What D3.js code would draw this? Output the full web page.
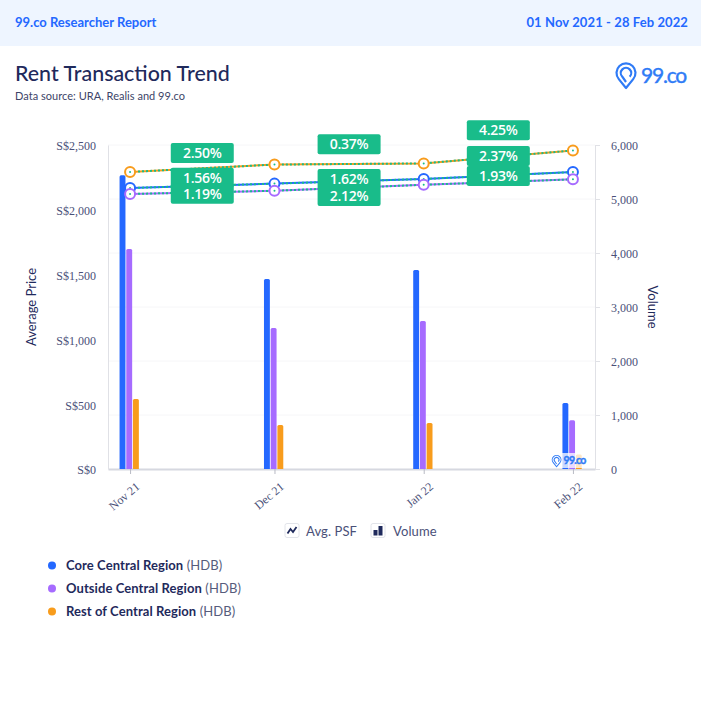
<!DOCTYPE html>
<html>
<head>
<meta charset="utf-8">
<script src="https://d3js.org/d3.v7.min.js"></script>
<title>Rent Transaction Trend</title>
<style>
html, body { margin: 0; padding: 0; background: #fff; }
svg { display: block; }
text { font-family: "Lato", sans-serif; }
.tick-label { font-family: "Liberation Serif", serif; font-size: 12px; fill: #4a5078; }
</style>
</head>
<body>
<svg id="chart" width="701" height="719"></svg>
<script>
// values
const months = ["2021-11-01", "2021-12-01", "2022-01-01", "2022-02-01"];
const monthLabels = ["Nov 21", "Dec 21", "Jan 22", "Feb 22"];
const regions = ["Core Central Region", "Outside Central Region", "Rest of Central Region"];
const coreVolume = [5440, 3520, 3685, 1220];
const outsideVolume = [4075, 2610, 2740, 905];
const restVolume = [1295, 815, 850, 270];
const corePrice = [2168, 2202, 2238, 2291];
const outsidePrice = [2122, 2147, 2193, 2235];
const restPrice = [2292, 2349, 2358, 2458];
const coreGrowth = ["1.56%", "1.62%", "2.37%"];
const outsideGrowth = ["1.19%", "2.12%", "1.93%"];
const restGrowth = ["2.50%", "0.37%", "4.25%"];
const priceTicks = [0, 500, 1000, 1500, 2000, 2500];
const volumeTicks = [0, 1000, 2000, 3000, 4000, 5000, 6000];

const colors = ["#2468ff", "#a66bff", "#f89c1c"];
const green = "#19bc8a";
const navy = "#1f2a5c";

// label centres were pushed apart by the original chart, so they sit in their own table
const labelY = [[177.7, 179, 156], [193.7, 196, 176], [153, 144.3, 130.3]];

const svg = d3.select("#chart");
const dates = months.map(d3.isoParse);

const x = d3.scaleTime()
  .domain([d3.isoParse("2021-10-27T10:00:00"), d3.isoParse("2022-02-05T14:00:00")])
  .range([108, 595]);
const yPrice = d3.scaleLinear().domain([0, 2500]).range([469, 145]);
const yVolume = d3.scaleLinear().domain([0, 6000]).range([469, 145]);

// page header
svg.append("rect").attr("width", 701).attr("height", 46).attr("fill", "#eef5ff");
svg.append("text").attr("x", 15).attr("y", 27).attr("font-size", 13).attr("font-weight", 700)
  .attr("fill", "#2468ff").text("99.co Researcher Report");
svg.append("text").attr("x", 688).attr("y", 27).attr("text-anchor", "end").attr("font-size", 13)
  .attr("font-weight", 700).attr("letter-spacing", 0.1).attr("fill", "#2468ff").text("01 Nov 2021 - 28 Feb 2022");
svg.append("text").attr("x", 15).attr("y", 81).attr("font-size", 21.4).attr("font-weight", 500)
  .attr("fill", navy).text("Rent Transaction Trend");
svg.append("text").attr("x", 15).attr("y", 100).attr("font-size", 11)
  .attr("letter-spacing", 0.03).attr("fill", "#3d4468").text("Data source: URA, Realis and 99.co");

function logo(g, scale, fontSize, weight, spacing) {
  const pin = g.append("g").attr("transform", `scale(${scale})`)
    .attr("fill", "none").attr("stroke", "#2f7bf6").attr("stroke-linejoin", "round");
  pin.append("path").attr("stroke-width", 2.2)
    .attr("d", "M10 24.5 L2.8 15.6 A9.5 9.5 0 1 1 17.2 15.6 Z");
  pin.append("path").attr("stroke-width", 2.2)
    .attr("d", "M10 18.5 L6.3 13.2 A5.2 5.2 0 1 1 13.7 13.2");
  g.append("text").attr("x", 25 * scale).attr("y", 19.5 * scale).attr("font-size", fontSize)
    .attr("font-weight", weight).attr("letter-spacing", spacing)
    .attr("fill", "#2f7bf6").attr("stroke", "#2f7bf6").attr("stroke-width", 0.4).text("99.co");
}
logo(svg.append("g").attr("transform", "translate(616,63.5)"), 1, 21, 400, -1.2);

// faint gridlines
svg.append("g").selectAll("line").data(volumeTicks.slice(1)).join("line")
  .attr("x1", 108).attr("x2", 595)
  .attr("y1", d => yVolume(d)).attr("y2", d => yVolume(d))
  .attr("stroke", "#f6f6f8");

// axes
const xAxis = d3.axisBottom(x).tickValues(dates).tickSizeInner(5).tickSizeOuter(0)
  .tickFormat((d, i) => monthLabels[i]);
const gx = svg.append("g").attr("transform", "translate(0,469)").call(xAxis);
gx.select(".domain").attr("stroke", "#d6d8e0").attr("stroke-width", 2);
gx.selectAll(".tick line").attr("stroke", "#b8bac4");
gx.selectAll(".tick text").attr("class", "tick-label")
  .attr("text-anchor", "end").attr("x", 0).attr("y", 0).attr("dy", 0)
  .attr("transform", "translate(10,19) rotate(-40)")
  .style("font-family", null).style("font-size", null);

const gl = svg.append("g").attr("transform", "translate(108,0)")
  .call(d3.axisLeft(yPrice).tickValues(priceTicks).tickSize(0).tickPadding(12)
    .tickFormat(d => "S$" + d3.format(",")(d)));
gl.select(".domain").attr("stroke", "#e0e1e6");
gl.selectAll(".tick text").attr("class", "tick-label").attr("dy", "0.4em");

const gr = svg.append("g").attr("transform", "translate(595,0)")
  .call(d3.axisRight(yVolume).tickValues(volumeTicks).tickSize(5).tickPadding(11)
    .tickFormat(d3.format(",")));
gr.select(".domain").attr("stroke", "#e0e1e6");
gr.selectAll(".tick line").attr("stroke", "#e0e1e6");
gr.selectAll(".tick text").attr("class", "tick-label").attr("dy", "0.4em");

svg.append("text").attr("transform", "translate(36,307) rotate(-90)")
  .attr("text-anchor", "middle").attr("font-size", 13).attr("fill", navy).text("Average Price");
svg.append("text").attr("transform", "translate(648,307) rotate(90)")
  .attr("text-anchor", "middle").attr("font-size", 13).attr("fill", navy).text("Volume");

// bars
const volumes = [coreVolume, outsideVolume, restVolume];
const barX = d3.scaleBand().domain(d3.range(3)).range([-10.5, 8.8]).paddingInner(0.12);
volumes.forEach((series, s) => {
  svg.append("g").selectAll("path").data(series).join("path")
    .attr("fill", colors[s])
    .attr("d", (d, i) => {
      const l = x(dates[i]) + barX(s), w = barX.bandwidth(), top = yVolume(d), r = 1.5;
      return `M${l},469V${top + r}Q${l},${top} ${l + r},${top}H${l + w - r}Q${l + w},${top} ${l + w},${top + r}V469Z`;
    });
});

// price lines with the green dotted overlay, rings on top
const prices = [corePrice, outsidePrice, restPrice];
const line = d3.line().x((d, i) => x(dates[i])).y(d => yPrice(d));
prices.forEach((series, s) => {
  svg.append("path").attr("d", line(series)).attr("fill", "none")
    .attr("stroke", colors[s]).attr("stroke-width", 2);
  svg.append("path").attr("d", line(series)).attr("fill", "none")
    .attr("stroke", green).attr("stroke-width", 2).attr("stroke-dasharray", "2 2");
  svg.append("g").selectAll("circle").data(series).join("circle")
    .attr("cx", (d, i) => x(dates[i])).attr("cy", d => yPrice(d)).attr("r", 5)
    .attr("fill", "#fff").attr("stroke", colors[s]).attr("stroke-width", 2);
  svg.append("g").selectAll("circle").data(series).join("circle")
    .attr("cx", (d, i) => x(dates[i])).attr("cy", d => yPrice(d)).attr("r", 1)
    .attr("fill", green);
});

// growth labels between the months
[coreGrowth, outsideGrowth, restGrowth].forEach((series, s) => {
  const g = svg.append("g").selectAll("g").data(series).join("g")
    .attr("transform", (d, i) => {
      const mid = new Date((dates[i].getTime() + dates[i + 1].getTime()) / 2);
      return `translate(${x(mid)},${labelY[s][i]})`;
    });
  g.append("rect").attr("x", -31.5).attr("y", -10).attr("width", 63).attr("height", 20)
    .attr("rx", 2).attr("fill", green);
  g.append("text").attr("text-anchor", "middle").attr("y", 5).attr("font-size", 14)
    .style("font-family", "Open Sans").attr("font-weight", 600).attr("letter-spacing", -0.3)
    .attr("fill", "#fff").text(d => d);
});

// watermark
svg.append("rect").attr("x", 550).attr("y", 453).attr("width", 40).attr("height", 15)
  .attr("fill", "#fff").attr("opacity", 0.75);
logo(svg.append("g").attr("transform", "translate(552,455.5)"), 0.46, 10.5, 700, -0.7);

// chart type switch
const legendY = 531;
const lineIcon = svg.append("g").attr("transform", `translate(285,${legendY - 7.5})`);
lineIcon.append("rect").attr("width", 14).attr("height", 14).attr("rx", 2).attr("fill", "#fff").attr("stroke", "#e2e4ea");
lineIcon.append("path").attr("d", "M2.5 10 L5.5 5.5 L8 8.5 L11.5 3.5").attr("fill", "none").attr("stroke", navy).attr("stroke-width", 1.8);
svg.append("text").attr("x", 306).attr("y", legendY + 4.5).attr("font-size", 13).attr("letter-spacing", 0.1).attr("fill", "#4a5078").text("Avg. PSF");
const barIcon = svg.append("g").attr("transform", `translate(371,${legendY - 7.5})`);
barIcon.append("rect").attr("width", 14).attr("height", 14).attr("rx", 2).attr("fill", "#fff").attr("stroke", "#e2e4ea");
barIcon.append("rect").attr("x", 2.5).attr("y", 6.5).attr("width", 4).attr("height", 5.5).attr("fill", navy);
barIcon.append("rect").attr("x", 7.5).attr("y", 2.5).attr("width", 4).attr("height", 9.5).attr("fill", navy);
svg.append("text").attr("x", 393).attr("y", legendY + 4.5).attr("font-size", 13).attr("letter-spacing", 0.1).attr("fill", "#4a5078").text("Volume");

// region legend
const rows = svg.append("g").selectAll("g").data(regions).join("g")
  .attr("transform", (d, i) => `translate(52,${565.5 + i * 23})`);
rows.append("circle").attr("r", 4).attr("fill", (d, i) => colors[i]);
const rowText = rows.append("text").attr("x", 14).attr("y", 4.5).attr("font-size", 13);
rowText.append("tspan").attr("font-weight", 700).attr("letter-spacing", 0.08).attr("fill", navy).text(d => d);
rowText.append("tspan").attr("fill", "#565c7c").attr("letter-spacing", 0.1).text(" (HDB)");
</script>
</body>
</html>
